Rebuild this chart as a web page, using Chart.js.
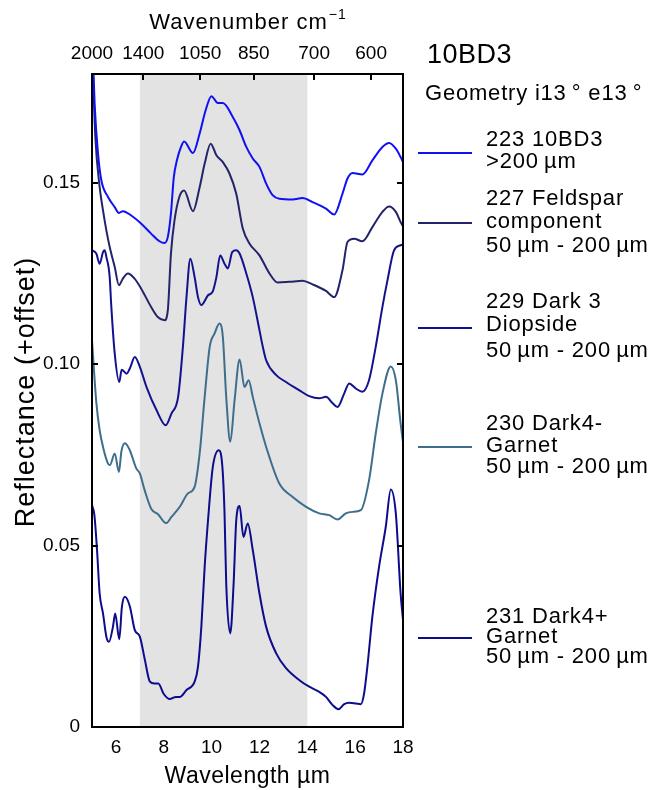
<!DOCTYPE html>
<html>
<head>
<meta charset="utf-8">
<title>10BD3 reflectance spectra</title>
<script src="https://cdn.jsdelivr.net/npm/chart.js@4.4.1/dist/chart.umd.min.js"></script>
<style>
  html, body { margin: 0; padding: 0; background: #fff; }
  #wrap { width: 652px; height: 790px; }
</style>
</head>
<body>
<div id="wrap"><canvas id="spectraChart" width="652" height="790"></canvas></div>
<script>
// axes
var xTicks = [6, 8, 10, 12, 14, 16, 18];
var yTicks = [0, 0.05, 0.10, 0.15];
var wavenumberTicks = [2000, 1400, 1050, 850, 700, 600];
var bandRange = [7, 14];

var seriesNames = [
    ['223 10BD3', '>200\u2009µm'],
    ['227 Feldspar', 'component', '50\u2009µm - 200\u2009µm'],
    ['229 Dark 3', 'Diopside', '50\u2009µm - 200\u2009µm'],
    ['230 Dark4-', 'Garnet', '50\u2009µm - 200\u2009µm'],
    ['231 Dark4+', 'Garnet', '50\u2009µm - 200\u2009µm']
];
var seriesColors = ['#1010f5', '#24246a', '#12128e', '#3f6d8c', '#0c0c8c'];

// 223 10BD3 >200 µm
var wl223 = [5.0, 5.11, 5.25, 5.39, 5.67, 5.95, 6.125, 6.29, 6.64, 7.05, 7.47, 7.82, 8.03, 8.17, 8.30, 8.42, 8.55, 8.72, 8.85, 9.22, 9.5, 9.75, 9.99, 10.26, 10.47, 10.89, 11.17, 11.45, 11.72, 12.0, 12.28, 12.55, 12.83, 13.39, 13.80, 14.22, 14.78, 15.125, 15.47, 15.68, 15.89, 16.30, 16.72, 17.14, 17.42, 17.70, 17.90, 18.0];
var refl223 = [0.192, 0.1718, 0.1581, 0.1507, 0.1461, 0.1433, 0.1417, 0.1422, 0.1410, 0.1388, 0.1360, 0.1339, 0.1334, 0.1351, 0.1416, 0.1516, 0.1562, 0.1599, 0.1614, 0.1582, 0.1636, 0.1700, 0.1739, 0.1720, 0.1720, 0.1681, 0.1645, 0.1599, 0.1567, 0.1544, 0.1498, 0.1466, 0.1456, 0.1454, 0.1458, 0.1447, 0.1429, 0.1413, 0.1470, 0.1512, 0.1527, 0.1523, 0.1562, 0.1599, 0.1610, 0.1594, 0.1571, 0.1558];

// 227 Feldspar component
var wl227 = [5.0, 5.14, 5.32, 5.46, 5.60, 5.74, 5.95, 6.125, 6.29, 6.5, 6.78, 7.05, 7.47, 7.75, 8.03, 8.17, 8.30, 8.45, 8.65, 8.85, 9.22, 9.5, 9.71, 9.96, 10.2, 10.47, 10.75, 11.03, 11.30, 11.58, 12.0, 12.42, 12.76, 13.25, 13.80, 14.22, 14.78, 15.125, 15.47, 15.68, 15.96, 16.30, 16.72, 17.14, 17.42, 17.70, 17.90, 18.0];
var refl227 = [0.188, 0.1626, 0.1488, 0.1424, 0.1369, 0.1323, 0.1268, 0.1218, 0.1236, 0.1250, 0.1236, 0.1209, 0.1158, 0.1130, 0.1121, 0.1149, 0.1305, 0.1397, 0.1461, 0.1479, 0.1422, 0.1488, 0.1553, 0.1608, 0.1576, 0.1557, 0.1525, 0.1470, 0.1375, 0.1333, 0.1300, 0.1250, 0.1225, 0.1227, 0.1230, 0.1220, 0.1202, 0.1185, 0.1259, 0.1337, 0.1346, 0.1339, 0.1378, 0.1420, 0.1435, 0.1420, 0.1392, 0.1380];

// 229 Dark 3 Diopside
var wl229 = [5.0, 5.18, 5.32, 5.46, 5.53, 5.60, 5.74, 5.80, 5.95, 6.14, 6.24, 6.45, 6.58, 6.79, 7.0, 7.28, 7.70, 8.08, 8.32, 8.60, 8.80, 8.95, 9.11, 9.29, 9.43, 9.57, 9.85, 10.05, 10.2, 10.36, 10.54, 10.68, 10.86, 11.03, 11.17, 11.45, 11.72, 12.0, 12.14, 12.28, 12.70, 13.11, 13.67, 14.08, 14.5, 14.78, 15.05, 15.26, 15.54, 15.75, 16.03, 16.30, 16.58, 16.86, 17.14, 17.35, 17.625, 17.90, 18.0];
var refl229 = [0.1314, 0.1305, 0.1277, 0.1309, 0.1314, 0.1296, 0.1240, 0.1167, 0.1029, 0.0951, 0.0985, 0.0974, 0.0988, 0.1020, 0.0993, 0.0937, 0.0873, 0.0832, 0.0864, 0.0910, 0.1048, 0.1185, 0.1291, 0.1240, 0.1185, 0.1163, 0.1190, 0.1201, 0.1240, 0.1300, 0.1277, 0.1264, 0.1309, 0.1314, 0.1305, 0.1250, 0.1185, 0.1094, 0.1048, 0.1011, 0.0970, 0.0951, 0.0928, 0.0912, 0.0906, 0.0910, 0.0893, 0.0882, 0.0919, 0.0947, 0.0933, 0.0924, 0.0956, 0.1048, 0.1158, 0.1231, 0.1314, 0.1328, 0.1330];

// 230 Dark4- Garnet
var wl230 = [5.0, 5.18, 5.32, 5.46, 5.67, 5.75, 5.95, 6.125, 6.23, 6.375, 6.58, 6.85, 7.0, 7.2, 7.48, 7.75, 8.10, 8.32, 8.67, 9.01, 9.29, 9.5, 9.71, 9.92, 10.125, 10.33, 10.47, 10.61, 10.78, 10.96, 11.17, 11.375, 11.55, 11.72, 12.0, 12.28, 12.83, 13.39, 13.95, 14.5, 14.92, 15.26, 15.61, 15.89, 16.24, 16.58, 16.86, 17.14, 17.49, 17.70, 17.90, 18.0];
var refl230 = [0.1066, 0.0895, 0.0818, 0.0772, 0.0726, 0.0722, 0.0754, 0.0703, 0.0760, 0.0782, 0.0763, 0.0713, 0.0699, 0.0653, 0.0601, 0.0587, 0.0562, 0.0579, 0.0607, 0.0644, 0.0662, 0.0754, 0.0910, 0.1048, 0.1085, 0.1112, 0.1075, 0.0910, 0.0786, 0.0901, 0.1013, 0.0937, 0.0956, 0.0910, 0.0837, 0.0772, 0.0671, 0.0634, 0.0607, 0.0589, 0.0584, 0.0572, 0.0589, 0.0593, 0.0598, 0.0680, 0.0809, 0.0919, 0.0994, 0.0956, 0.0837, 0.0785];

// 231 Dark4+ Garnet
var wl231 = [5.0, 5.10, 5.21, 5.32, 5.46, 5.60, 5.71, 5.875, 5.97, 6.14, 6.25, 6.375, 6.58, 6.79, 7.0, 7.21, 7.42, 7.61, 7.77, 8.0, 8.25, 8.51, 8.67, 8.95, 9.29, 9.43, 9.57, 9.71, 9.85, 10.05, 10.30, 10.45, 10.54, 10.61, 10.78, 10.92, 11.03, 11.17, 11.33, 11.51, 11.72, 12.0, 12.28, 12.70, 13.11, 13.67, 14.08, 14.5, 14.78, 15.05, 15.30, 15.54, 15.75, 16.03, 16.24, 16.375, 16.51, 16.72, 17.0, 17.28, 17.49, 17.70, 17.90, 18.0];
var refl231 = [0.0612, 0.0584, 0.0488, 0.0368, 0.0313, 0.0249, 0.0235, 0.0276, 0.0313, 0.0242, 0.0331, 0.0359, 0.0333, 0.0267, 0.0249, 0.0185, 0.0125, 0.0120, 0.0120, 0.0091, 0.0077, 0.0083, 0.0083, 0.0102, 0.0125, 0.0166, 0.0276, 0.0442, 0.0570, 0.0717, 0.0763, 0.0717, 0.0589, 0.0396, 0.0258, 0.0396, 0.0570, 0.0609, 0.0524, 0.0561, 0.0488, 0.0368, 0.0276, 0.0203, 0.0162, 0.0129, 0.0111, 0.0097, 0.0083, 0.0061, 0.0049, 0.0063, 0.0067, 0.0065, 0.0063, 0.0093, 0.0166, 0.0304, 0.0442, 0.0552, 0.0655, 0.0589, 0.0368, 0.0295];

var FONT = '"Liberation Sans", Arial, Helvetica, sans-serif';

function toPoints(xs, ys) {
    return xs.map(function (x, i) { return { x: x, y: ys[i] }; });
}

var allSeries = [[wl223, refl223], [wl227, refl227], [wl229, refl229], [wl230, refl230], [wl231, refl231]];
var datasets = allSeries.map(function (s, i) {
    return {
        label: seriesNames[i].join(' '),
        data: toPoints(s[0], s[1]),
        borderColor: seriesColors[i],
        borderWidth: 2,
        pointRadius: 0,
        fill: false,
        cubicInterpolationMode: 'monotone'
    };
});

// draw text with a bit of tracking, like the original figure
function spacedText(ctx, text, x, y, spacing) {
    ctx.letterSpacing = spacing + 'px';
    ctx.fillText(text, x, y);
    ctx.letterSpacing = '0px';
}

// grey band, frame, inward ticks, titles and legend
var decorations = {
    id: 'decorations',
    beforeDatasetsDraw: function (chart) {
        var ctx = chart.ctx, a = chart.chartArea, xs = chart.scales.x;
        var x0 = xs.getPixelForValue(bandRange[0]), x1 = xs.getPixelForValue(bandRange[1]);
        ctx.save();
        ctx.fillStyle = '#e3e3e3';
        ctx.fillRect(x0, a.top, x1 - x0, a.bottom - a.top);
        ctx.restore();
    },
    afterDatasetsDraw: function (chart) {
        var ctx = chart.ctx, a = chart.chartArea;
        var ys = chart.scales.y, xt = chart.scales.xTop;
        ctx.save();
        ctx.strokeStyle = '#000';
        ctx.lineWidth = 2;
        ctx.beginPath();
        yTicks.forEach(function (v) {
            var py = Math.round(ys.getPixelForValue(v));
            if (v === 0) return;
            ctx.moveTo(a.left, py); ctx.lineTo(a.left + 6, py);
            ctx.moveTo(a.right, py); ctx.lineTo(a.right - 6, py);
        });
        wavenumberTicks.forEach(function (wn) {
            var px = Math.round(xt.getPixelForValue(10000 / wn));
            if (wn === 2000) return;
            ctx.moveTo(px, a.top); ctx.lineTo(px, a.top + 6);
        });
        ctx.stroke();
        ctx.strokeRect(a.left, a.top, a.right - a.left, a.bottom - a.top);
        ctx.restore();
    },
    afterDraw: function (chart) {
        var ctx = chart.ctx, a = chart.chartArea;
        var cx = (a.left + a.right) / 2;
        ctx.save();
        ctx.fillStyle = '#000';
        ctx.textBaseline = 'middle';

        // top axis title with superscript
        ctx.font = '22px ' + FONT;
        ctx.letterSpacing = '1px';
        var main = 'Wavenumber cm';
        var w1 = ctx.measureText(main).width;
        ctx.font = '14px ' + FONT;
        var w2 = ctx.measureText('\u22121').width;
        var sx = cx - (w1 + w2) / 2;
        ctx.font = '22px ' + FONT;
        ctx.textAlign = 'left';
        ctx.fillText(main, sx, 23);
        ctx.font = '14px ' + FONT;
        ctx.fillText('\u22121', sx + w1 + 1, 15);
        ctx.letterSpacing = '0px';

        // bottom axis title
        ctx.font = '23px ' + FONT;
        ctx.textAlign = 'center';
        spacedText(ctx, 'Wavelength µm', cx, 777, 0.5);

        // y axis title
        ctx.save();
        ctx.translate(27, 392);
        ctx.rotate(-Math.PI / 2);
        ctx.font = '27px ' + FONT;
        spacedText(ctx, 'Reflectance (+offset)', 0, 0, 1);
        ctx.restore();

        // sample title and geometry
        ctx.textAlign = 'left';
        ctx.font = '27px ' + FONT;
        spacedText(ctx, '10BD3', 427, 56, 0.5);
        ctx.font = '22px ' + FONT;
        spacedText(ctx, 'Geometry i13\u2009° e13\u2009°', 425, 94, 0.8);

        // legend
        var lineY = [153, 223, 328, 447, 638];
        var textY = [[140, 162], [199, 222, 246], [302, 325, 351], [424, 446, 467], [617, 637, 657]];
        seriesNames.forEach(function (lines, i) {
            ctx.strokeStyle = seriesColors[i];
            ctx.lineWidth = 2;
            ctx.beginPath();
            ctx.moveTo(418, lineY[i]);
            ctx.lineTo(472, lineY[i]);
            ctx.stroke();
            ctx.font = '22px ' + FONT;
            lines.forEach(function (t, j) {
                spacedText(ctx, t, 486, textY[i][j], 0.8);
            });
        });
        ctx.restore();
    }
};

var ctx = document.getElementById('spectraChart').getContext('2d');
var spectraChart = new Chart(ctx, {
    type: 'line',
    data: { datasets: datasets },
    options: {
        responsive: false,
        animation: false,
        layout: { padding: { left: 0, right: 249, top: 0, bottom: 0 } },
        plugins: {
            legend: { display: false },
            tooltip: { enabled: false }
        },
        scales: {
            x: {
                type: 'linear',
                position: 'bottom',
                min: 5,
                max: 18,
                afterBuildTicks: function (scale) {
                    scale.ticks = xTicks.map(function (v) { return { value: v }; });
                },
                afterFit: function (scale) { scale.height = 63; },
                grid: { display: false, drawTicks: false },
                border: { display: false },
                ticks: {
                    autoSkip: false,
                    maxRotation: 0,
                    padding: 9,
                    color: '#000',
                    font: { family: FONT, size: 19 }
                }
            },
            xTop: {
                type: 'linear',
                position: 'top',
                min: 5,
                max: 18,
                afterBuildTicks: function (scale) {
                    scale.ticks = wavenumberTicks.map(function (wn) { return { value: 10000 / wn }; });
                },
                afterFit: function (scale) { scale.height = 74; },
                grid: { display: false, drawTicks: false },
                border: { display: false },
                ticks: {
                    autoSkip: false,
                    maxRotation: 0,
                    padding: 9,
                    color: '#000',
                    font: { family: FONT, size: 19 },
                    callback: function (value) { return Math.round(10000 / value); }
                }
            },
            y: {
                type: 'linear',
                min: 0,
                max: 0.18,
                afterBuildTicks: function (scale) {
                    scale.ticks = yTicks.map(function (v) { return { value: v }; });
                },
                afterFit: function (scale) { scale.width = 92; },
                grid: { display: false, drawTicks: false },
                border: { display: false },
                ticks: {
                    padding: 12,
                    color: '#000',
                    font: { family: FONT, size: 19 },
                    callback: function (value) { return value === 0 ? '0' : value.toFixed(2); }
                }
            }
        }
    },
    plugins: [decorations]
});
</script>
</body>
</html>
